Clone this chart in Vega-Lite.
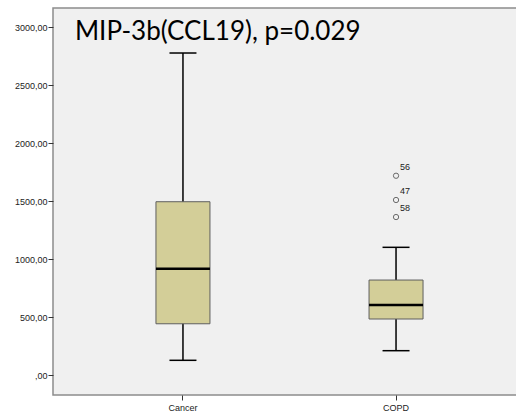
{
  "$schema": "https://vega.github.io/schema/vega-lite/v6.json",
  "autosize": "none",
  "padding": {"left": 53, "top": 8, "right": 0, "bottom": 19},
  "width": 473,
  "height": 387,
  "background": "#ffffff",
  "config": {
    "view": {"fill": "#f0f0f0", "stroke": "#8c8c8c", "strokeWidth": 1.5},
    "axis": {
      "grid": false,
      "domain": false,
      "tickColor": "#333333",
      "tickSize": 5,
      "labelFont": "Liberation Sans",
      "labelFontSize": 9,
      "labelColor": "#222222",
      "title": null
    }
  },
  "datasets": {
    "boxes": [
      {"category": "Cancer", "lower": 127, "q1": 442, "median": 916, "q3": 1494, "upper": 2776},
      {"category": "COPD", "lower": 210, "q1": 483, "median": 603, "q3": 819, "upper": 1101}
    ],
    "outliers": [
      {"category": "COPD", "value": 1718, "case": "56"},
      {"category": "COPD", "value": 1509, "case": "47"},
      {"category": "COPD", "value": 1362, "case": "58"}
    ],
    "annotations": [
      {"category": "Cancer", "value": 2888, "label": "MIP-3b(CCL19), p=0.029"}
    ]
  },
  "layer": [
    {
      "data": {"name": "boxes"},
      "mark": {"type": "rule", "color": "#000000", "strokeWidth": 1.5},
      "encoding": {
        "x": {"field": "category", "type": "nominal", "sort": ["Cancer", "COPD"],
              "scale": {"type": "band", "paddingInner": 0, "paddingOuter": 0.11},
              "axis": {"labelAngle": 0, "labelPadding": 3}},
        "y": {"field": "lower", "type": "quantitative",
              "scale": {"domain": [-172, 3164], "nice": false, "zero": false},
              "axis": {"values": [0, 500, 1000, 1500, 2000, 2500, 3000], "labelPadding": 1,
                       "labelExpr": "datum.value == 0 ? ',00' : replace(format(datum.value, '.2f'), '.', ',')"}},
        "y2": {"field": "upper"}
      }
    },
    {
      "data": {"name": "boxes"},
      "mark": {"type": "bar", "size": 54, "fill": "#d3ce98", "stroke": "#5f5f5f", "strokeWidth": 1},
      "encoding": {
        "x": {"field": "category", "type": "nominal", "sort": ["Cancer", "COPD"]},
        "y": {"field": "q1", "type": "quantitative"},
        "y2": {"field": "q3"}
      }
    },
    {
      "data": {"name": "boxes"},
      "mark": {"type": "tick", "size": 54, "thickness": 2.5, "color": "#000000", "opacity": 1},
      "encoding": {
        "x": {"field": "category", "type": "nominal", "sort": ["Cancer", "COPD"]},
        "y": {"field": "median", "type": "quantitative"}
      }
    },
    {
      "data": {"name": "boxes"},
      "mark": {"type": "tick", "size": 27, "thickness": 1.5, "color": "#000000", "opacity": 1},
      "encoding": {
        "x": {"field": "category", "type": "nominal", "sort": ["Cancer", "COPD"]},
        "y": {"field": "lower", "type": "quantitative"}
      }
    },
    {
      "data": {"name": "boxes"},
      "mark": {"type": "tick", "size": 27, "thickness": 1.5, "color": "#000000", "opacity": 1},
      "encoding": {
        "x": {"field": "category", "type": "nominal", "sort": ["Cancer", "COPD"]},
        "y": {"field": "upper", "type": "quantitative"}
      }
    },
    {
      "data": {"name": "outliers"},
      "mark": {"type": "point", "shape": "circle", "size": 28, "filled": false, "stroke": "#333333", "strokeWidth": 1},
      "encoding": {
        "x": {"field": "category", "type": "nominal", "sort": ["Cancer", "COPD"]},
        "y": {"field": "value", "type": "quantitative"}
      }
    },
    {
      "data": {"name": "outliers"},
      "mark": {"type": "text", "align": "left", "baseline": "middle", "dx": 4, "dy": -9, "font": "Liberation Sans", "fontSize": 9, "color": "#222222"},
      "encoding": {
        "x": {"field": "category", "type": "nominal", "sort": ["Cancer", "COPD"]},
        "y": {"field": "value", "type": "quantitative"},
        "text": {"field": "case"}
      }
    },
    {
      "data": {"name": "annotations"},
      "mark": {"type": "text", "align": "left", "baseline": "alphabetic", "dx": -108, "font": "Lato", "fontSize": 26, "color": "#000000"},
      "encoding": {
        "x": {"field": "category", "type": "nominal", "sort": ["Cancer", "COPD"]},
        "y": {"field": "value", "type": "quantitative"},
        "text": {"field": "label"}
      }
    }
  ]
}
